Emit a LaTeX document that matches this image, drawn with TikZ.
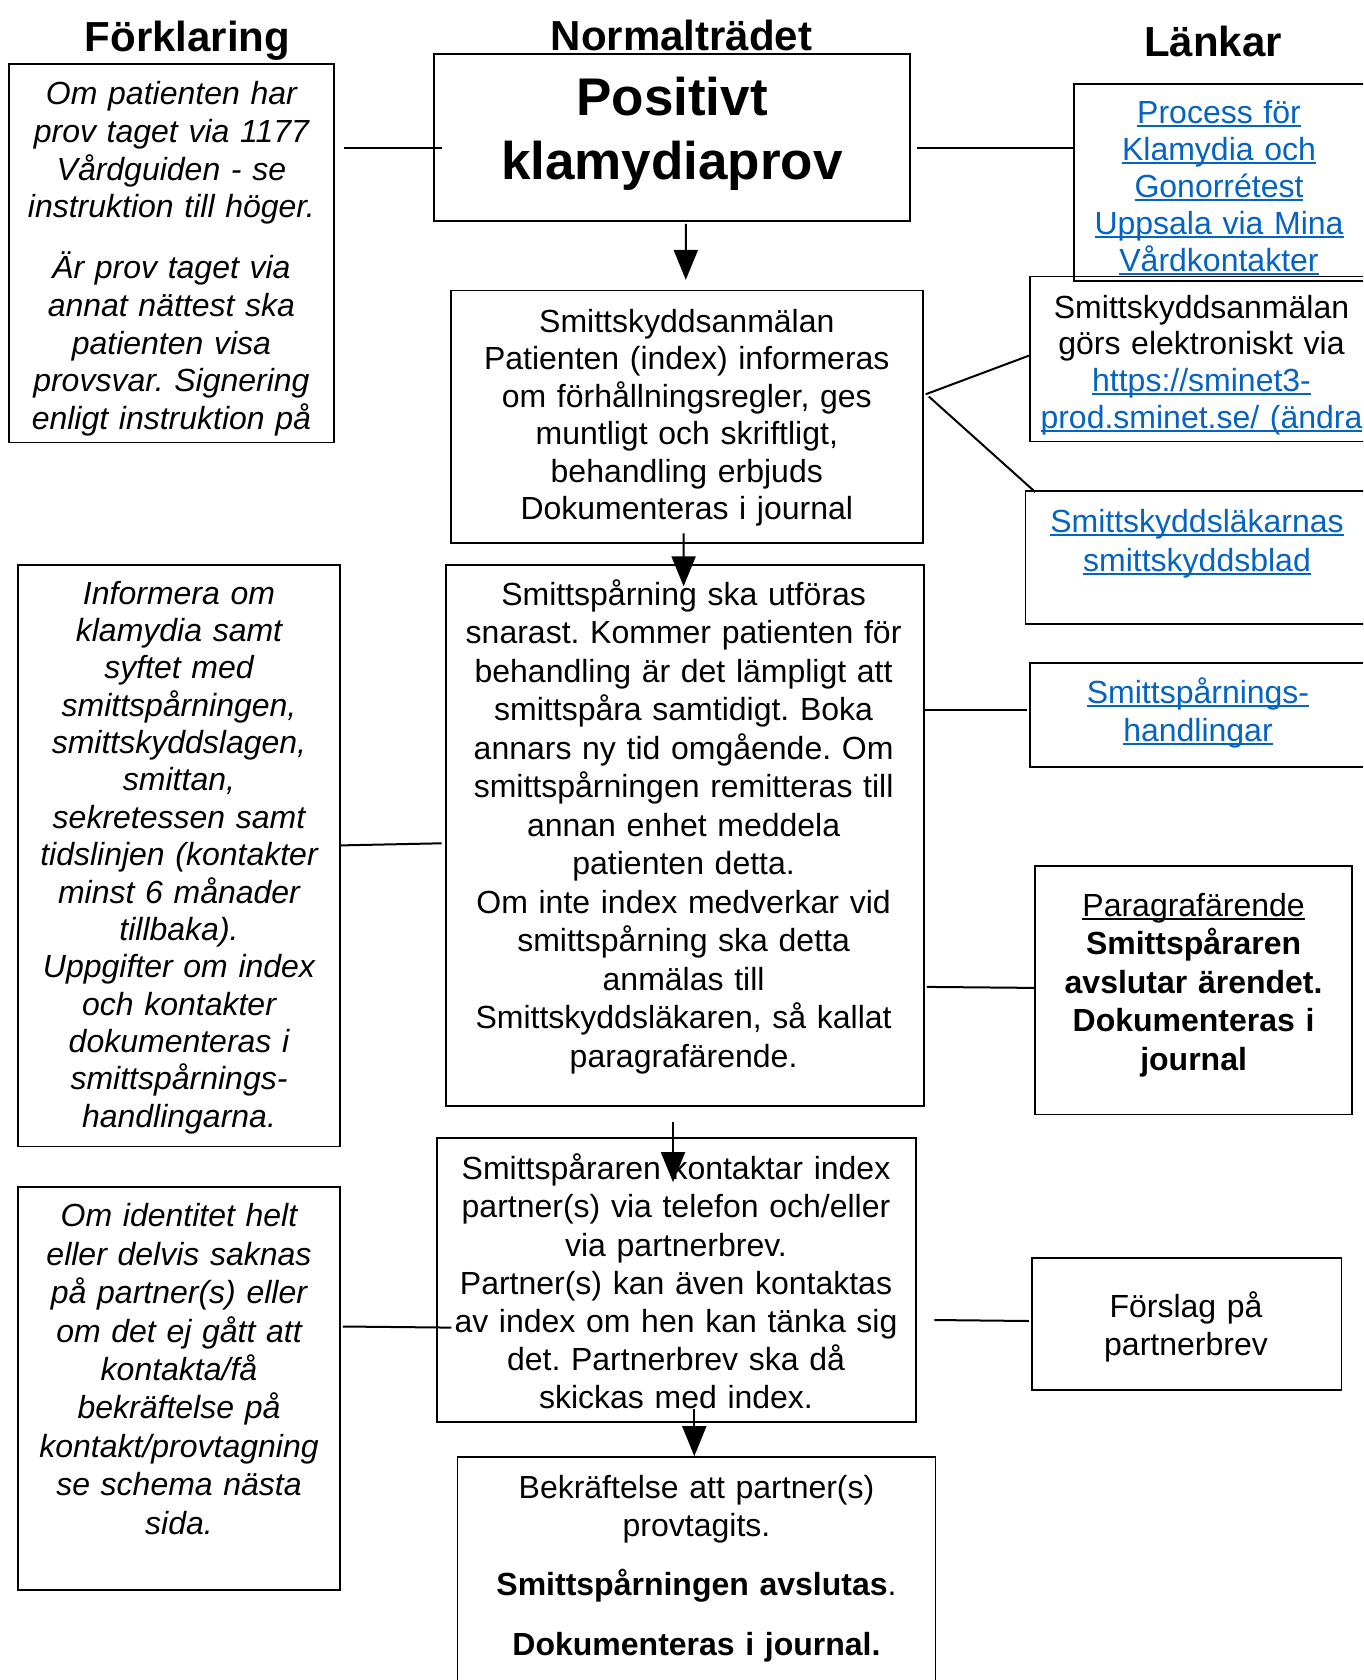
\documentclass[tikz,border=0pt]{standalone}
\usepackage{fontspec}
\setmainfont{Liberation Sans}
\usetikzlibrary{arrows.meta,calc}
\definecolor{linkblue}{RGB}{5,99,193}
\newsavebox{\myulbox}
\newcommand{\myul}[1]{\leavevmode\sbox{\myulbox}{#1}\rlap{\rule[-3.5pt]{\wd\myulbox}{2pt}}\usebox{\myulbox}}
\newcommand{\firststrut}{\leavevmode\rule{0pt}{26pt}}
\frenchspacing
\begin{document}
\begin{tikzpicture}[x=1pt,y=-1pt,
  box/.style={draw, line width=1.8pt, rectangle, inner sep=0pt},
  txt/.style={anchor=north, inner sep=0pt, align=center, text width=640pt, font=\fontsize{32}{#1}\selectfont\frenchspacing},
  ttl/.style={anchor=base, inner sep=0pt, font=\fontsize{42}{50}\selectfont\bfseries},
  conn/.style={line width=2pt},
  arr/.style={line width=2pt, -{Triangle[width=24pt,length=30pt]}},
  lnk/.style={text=linkblue}]
\useasboundingbox (0,0) rectangle (1363,1680);
\clip (0,0) rectangle (1363,1680);

% titles
\node[ttl] (T1) at (187.5,51.4) {Förklaring};
\node[ttl] (T2) at (681.5,50.4) {Normalträdet};
\node[ttl] (T3) at (1213,56.8) {Länkar};

% boxes
\node[box, minimum width=325.7pt, minimum height=378.2pt] (L1) at (171.5,253.4) {};
\node[box, minimum width=475.7pt, minimum height=167.1pt] (POS) at (671.9,137.2) {};
\node[box, minimum width=306pt, minimum height=197.1pt] (PROC) at (1227,182.2) {};
\node[box, minimum width=471.6pt, minimum height=252.9pt] (SSA) at (686.8,416.9) {};
\node[box, minimum width=350.3pt, minimum height=165.1pt] (SMINET) at (1204.9,359) {};
\node[box, minimum width=354.5pt, minimum height=132.9pt] (SLAK) at (1202.8,557.2) {};
\node[box, minimum width=477.9pt, minimum height=541.1pt] (SP) at (684.7,835.3) {};
\node[box, minimum width=321.5pt, minimum height=581.8pt] (L2) at (179,855.6) {};
\node[box, minimum width=350.3pt, minimum height=103.9pt] (SPH) at (1204.9,715.3) {};
\node[box, minimum width=317.3pt, minimum height=248.6pt] (PAR) at (1193.7,990.1) {};
\node[box, minimum width=478.9pt, minimum height=284pt] (SPR) at (676.7,1279.9) {};
\node[box, minimum width=321.5pt, minimum height=402.8pt] (L3) at (179,1388.6) {};
\node[box, minimum width=309.6pt, minimum height=131.7pt] (FOR) at (1186.7,1323.9) {};
\node[box, minimum width=477.9pt, minimum height=242.7pt] (BEK) at (696.5,1578.7) {};

% texts
\node[txt=37.6] (L1t) at (171.4,78.7) {\itshape\firststrut Om patienten har\\prov taget via 1177\\Vårdguiden - se\\instruktion till höger.\\[23.6pt]Är prov taget via\\annat nättest ska\\patienten visa\\provsvar. Signering\\enligt instruktion på};
\node[anchor=north, inner sep=0pt, align=center, text width=640pt, font=\fontsize{53}{64}\selectfont\bfseries] (POSt) at (672,73.4) {\rule{0pt}{42pt}Positivt\\klamydiaprov};
\node[txt=37, lnk] (PROCt) at (1219,96.9) {\firststrut\myul{Process för}\\ \myul{Klamydia och}\\ \myul{Gonorrétest}\\ \myul{Uppsala via Mina}\\ \myul{Vårdkontakter}};
\node[txt=37.5] (SSAt) at (686.8,305.9) {\firststrut Smittskyddsanmälan\\Patienten (index) informeras\\om förhållningsregler, ges\\muntligt och skriftligt,\\behandling erbjuds\\Dokumenteras i journal};
\node[txt=36.8] (SMINETt) at (1201.5,291.9) {\firststrut Smittskyddsanmälan\\görs elektroniskt via\\ \textcolor{linkblue}{\myul{https://sminet3-}}\\ \textcolor{linkblue}{\myul{prod.sminet.se/ (ändra}}};
\node[txt=38.6, lnk] (SLAKt) at (1197,506.2) {\firststrut\myul{Smittskyddsläkarnas}\\ \myul{smittskyddsblad}};
\node[txt=38.5] (SPt) at (683.6,579.1) {\firststrut Smittspårning ska utföras\\snarast. Kommer patienten för\\behandling är det lämpligt att\\smittspåra samtidigt. Boka\\annars ny tid omgående. Om\\smittspårningen remitteras till\\annan enhet meddela\\patienten detta.\\Om inte index medverkar vid\\smittspårning ska detta\\anmälas till\\Smittskyddsläkaren, så kallat\\paragrafärende.};
\node[txt=37.35] (L2t) at (179,578) {\itshape\firststrut Informera om\\klamydia samt\\syftet med\\smittspårningen,\\smittskyddslagen,\\smittan,\\sekretessen samt\\tidslinjen (kontakter\\minst 6 månader\\tillbaka).\\Uppgifter om index\\och kontakter\\dokumenteras i\\smittspårnings-\\handlingarna.};
\node[txt=37.5, lnk] (SPHt) at (1198,677.7) {\firststrut\myul{Smittspårnings-}\\ \myul{handlingar}};
\node[txt=38.6] (PARt) at (1193.6,889.8) {\firststrut\myul{Paragrafärende}\\ \textbf{Smittspåraren}\\ \textbf{avslutar ärendet.}\\ \textbf{Dokumenteras i}\\ \textbf{journal}};
\node[txt=38.2] (SPRt) at (676,1153.5) {\firststrut Smittspåraren kontaktar index\\partner(s) via telefon och/eller\\via partnerbrev.\\Partner(s) kan även kontaktas\\av index om hen kan tänka sig\\det. Partnerbrev ska då\\skickas med index.};
\node[txt=38.45] (L3t) at (179,1200.5) {\itshape\firststrut Om identitet helt\\eller delvis saknas\\på partner(s) eller\\om det ej gått att\\kontakta/få\\bekräftelse på\\kontakt/provtagning\\se schema nästa\\sida.};
\node[txt=37.6] (FORt) at (1186,1291.5) {\firststrut Förslag på\\partnerbrev};
\node[txt=37.6] (BEKt) at (696.5,1472.7) {\firststrut Bekräftelse att partner(s)\\provtagits.\\[21.3pt]\textbf{Smittspårningen avslutas}.\\[22.4pt]\textbf{Dokumenteras i journal.}};

% connectors
\draw[conn] ($(L1.east)+(8.6,-105.5)$) -- ($(POS.west)+(8.5,10.7)$);
\draw[conn] ($(POS.east)+(6.4,10.7)$) -- ($(PROC.west)+(-0.3,-34.3)$);
\draw[conn] ($(SSA.east)+(2.1,-22.6)$) -- ($(SMINET.west)+(0,-3.3)$);
\draw[conn] ($(SSA.east)+(5.3,-20.4)$) -- ($(SLAK.north west)+(10.6,2.2)$);
\draw[conn] ($(L2.east)+(0,-10.2)$) -- ($(SP.west)+(-3.2,8)$);
\draw[conn] ($(SP.east)+(0,-124.9)$) -- ($(SPH.west)+(-2.1,-4.9)$);
\draw[conn] ($(SP.east)+(2.2,151.6)$) -- ($(PAR.west)+(0,-2.2)$);
\draw[conn] ($(L3.east)+(2.1,-62.1)$) -- ($(SPR.west)+(15,47.7)$);
\draw[conn] ($(SPR.east)+(17.2,40.1)$) -- ($(FOR.west)+(-2.2,-2.9)$);

% arrows
\draw[arr] ($(POS.south)+(13.9,2.2)$) -- ($(SSA.north)+(-1,-9.7)$);
\draw[arr] ($(SSA.south)+(-3.2,-10.8)$) -- ($(SP.north)+(-1.1,22.5)$);
\draw[arr] ($(SP.south)+(-11.7,15)$) -- ($(SPR.north)+(-3.7,45.1)$);
\draw[arr] ($(SPR.south)+(17.6,-13.9)$) -- ($(BEK.north)+(-2.2,-0.3)$);
\end{tikzpicture}
\end{document}
